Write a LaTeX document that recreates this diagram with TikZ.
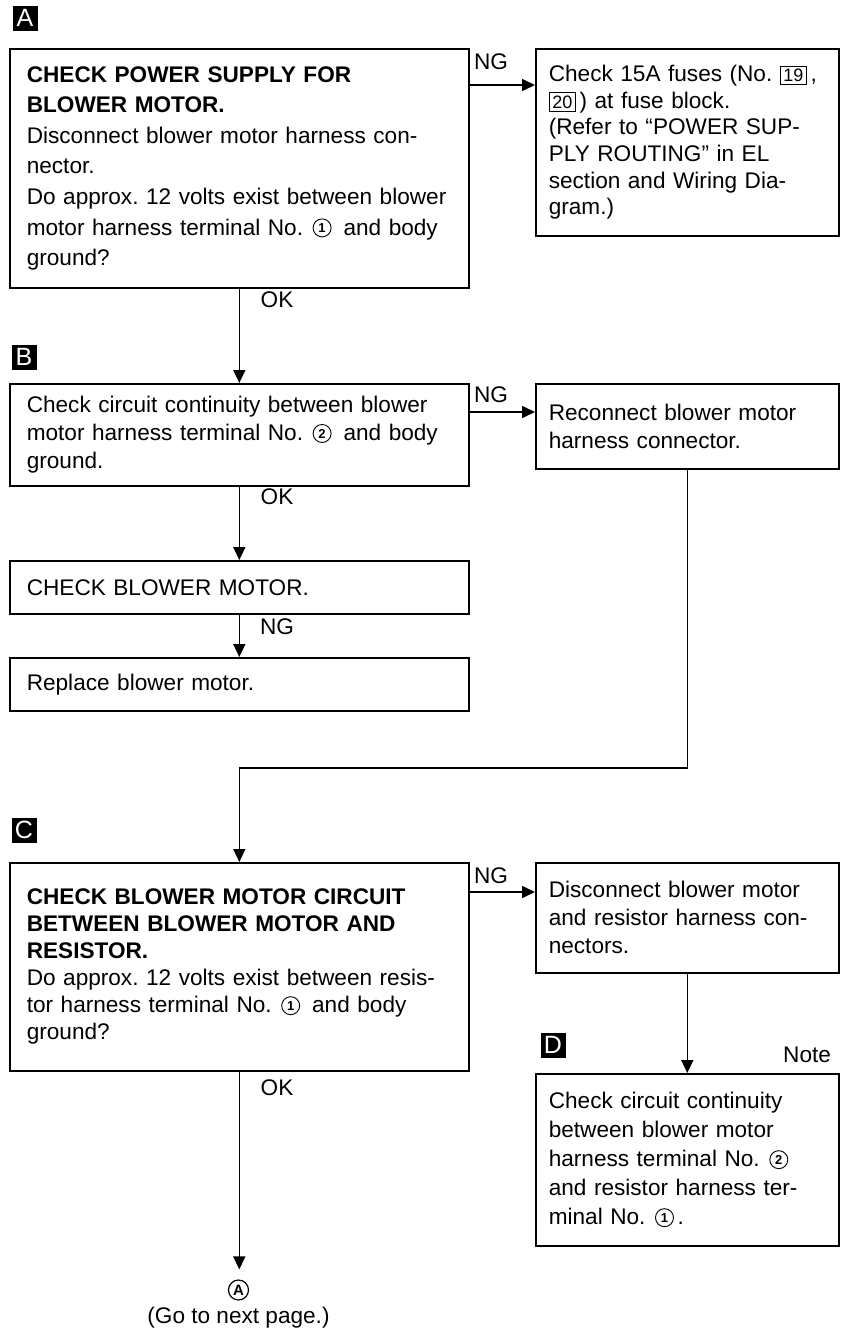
\documentclass[tikz,border=0pt]{standalone}
\usepackage{fontspec}
\setmainfont{Liberation Sans}
\usetikzlibrary{arrows.meta}
\setlength{\fboxsep}{1.3pt}
\setlength{\fboxrule}{0.45pt}
\frenchspacing
% circled terminal number and boxed fuse number
\newcommand{\cnum}[1]{\hspace{1pt}\tikz[baseline=-0.6ex]\node[circle,draw,line width=0.45pt,inner sep=0pt,minimum size=9pt,text width={},anchor=center,align=center,font=\fontsize{6.5}{6.5}\selectfont\bfseries]{#1};}
\newcommand{\bnum}[1]{\fbox{\fontsize{9}{9}\selectfont#1}}

\begin{document}
\begin{tikzpicture}[x=0.5pt,y=-0.5pt,
    stepbox/.style={draw,line width=0.8pt,anchor=north west,align=left,font=\fontsize{11.3}{14}\selectfont},
    widebox/.style={stepbox,minimum width=229.5pt,text width=212.5pt,inner xsep=8.5pt},
    sidebox/.style={stepbox,minimum width=151.5pt,text width=138.5pt,inner xsep=6.5pt},
    marker/.style={fill=black,text=white,minimum size=12.5pt,inner sep=0pt,font=\fontsize{12.5}{12.5}\selectfont},
    tag/.style={font=\fontsize{11.3}{12}\selectfont},
    flow/.style={line width=0.8pt,-{Triangle[length=6.5pt,width=6pt]}}]
\useasboundingbox (0,0) rectangle (845,1335);

% section markers
\node[marker] (mA) at (25,18) {A};
\node[marker] (mB) at (24,357) {B};
\node[marker] (mC) at (24,830) {C};
\node[marker] (mD) at (553,1045) {D};

% left column
\node[widebox,minimum height=119.5pt,font=\fontsize{11.3}{15.3}\selectfont] (power) at (9,48) {{\bfseries CHECK POWER SUPPLY FOR\\ BLOWER MOTOR.}\\ Disconnect blower motor harness con-\\ nector.\\ Do approx. 12 volts exist between blower\\ motor harness terminal No. \cnum{1}\hspace{6pt}and body\\ ground?};
\node[widebox,minimum height=51pt] (ground) at (9,383) {Check circuit continuity between blower\\ motor harness terminal No. \cnum{2}\hspace{6pt}and body\\ ground.};
\node[widebox,minimum height=26.5pt] (motor) at (9,560) {CHECK BLOWER MOTOR.};
\node[widebox,minimum height=26.5pt] (replace) at (9,657) {Replace blower motor.};
\node[widebox,minimum height=104pt,font=\fontsize{11.3}{13.5}\selectfont] (circuit) at (9,862) {{\bfseries CHECK BLOWER MOTOR CIRCUIT\\ BETWEEN BLOWER MOTOR AND\\ RESISTOR.}\\ Do approx. 12 volts exist between resis-\\ tor harness terminal No. \cnum{1}\hspace{6pt}and body\\ ground?};

% right column
\node[sidebox,minimum height=93.5pt,font=\fontsize{11.3}{13.3}\selectfont] (fuses) at (535,48) {Check 15A fuses (No. \bnum{19}\,,\\ \bnum{20}\,) at fuse block.\\ (Refer to ``POWER SUP-\\ PLY ROUTING'' in EL\\ section and Wiring Dia-\\ gram.)};
\node[sidebox,minimum height=42.5pt] (reconnect) at (535,383) {Reconnect blower motor\\ harness connector.};
\node[sidebox,minimum height=55pt] (disconnect) at (535,862) {Disconnect blower motor\\ and resistor harness con-\\ nectors.};
\node[sidebox,minimum height=86pt,font=\fontsize{11.3}{14.5}\selectfont] (cont) at (535,1073) {Check circuit continuity\\ between blower motor\\ harness terminal No. \cnum{2}\\ and resistor harness ter-\\ minal No. \cnum{1}\,.};

% connector A at the foot of the page
\node[circle,draw,line width=0.6pt,inner sep=0pt,minimum size=10pt,font=\fontsize{7.5}{7.5}\selectfont\bfseries] (next) at (238.5,1290) {A};
\node[tag] (nexttext) at (238.5,1318) {(Go to next page.)};

% branch labels
\node[tag] (ngA) at (491,62) {NG};
\node[tag] (okA) at (277,300) {OK};
\node[tag] (ngB) at (491,395) {NG};
\node[tag] (okB) at (277,497) {OK};
\node[tag] (ngM) at (277,627) {NG};
\node[tag] (ngC) at (491,876) {NG};
\node[tag] (okC) at (277,1088) {OK};
\node[tag,anchor=east] (note) at (838,1055) {Note};

% flow lines
\coordinate (rowA) at (0,85);
\coordinate (rowB) at (0,412);
\coordinate (rowC) at (0,892);
\coordinate (merge) at (circuit.north |- 0,768);
\draw[flow] (power.east |- rowA) -- (fuses.west |- rowA);
\draw[flow] (power.south) -- (ground.north);
\draw[flow] (ground.east |- rowB) -- (reconnect.west |- rowB);
\draw[flow] (ground.south) -- (motor.north);
\draw[flow] (motor.south) -- (replace.north);
\draw[flow] (reconnect.south) |- (merge) -- (circuit.north);
\draw[flow] (circuit.east |- rowC) -- (disconnect.west |- rowC);
\draw[flow] (disconnect.south) -- (cont.north);
\draw[flow,shorten >=5pt] (circuit.south) -- (circuit.south |- next.north);
\end{tikzpicture}
\end{document}
